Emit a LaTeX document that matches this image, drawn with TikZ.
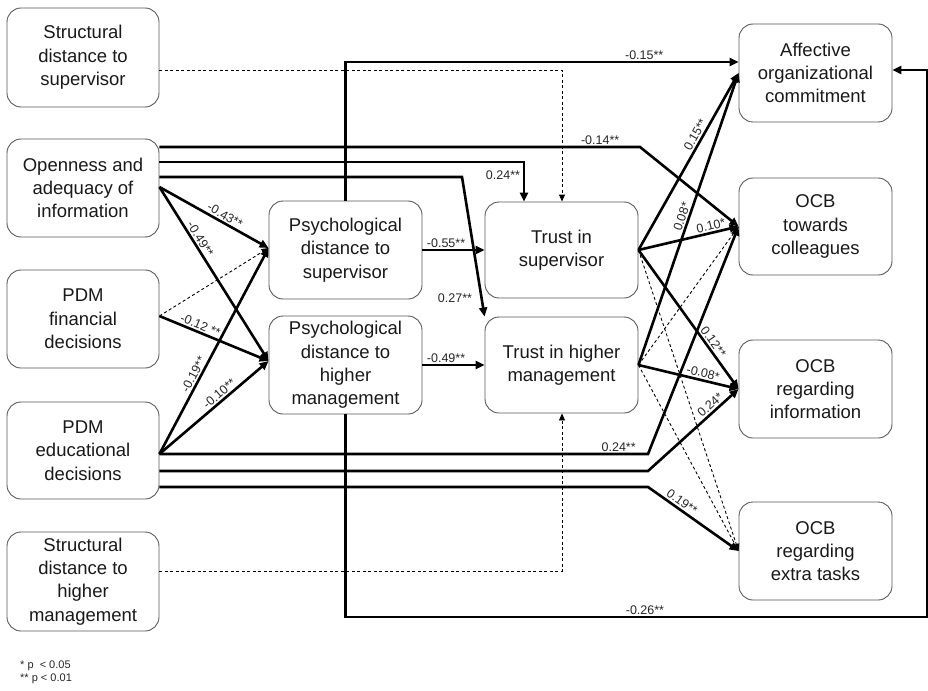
\documentclass[tikz,border=0pt]{standalone}
\usepackage{fontspec}
\setmainfont{Liberation Sans}
\usetikzlibrary{arrows.meta}
\begin{document}
\begin{tikzpicture}[x=1pt,y=-1pt,
  box/.style={draw=black!65, line width=0.9pt, rounded corners=14pt, align=center, inner sep=0pt,
    minimum width=153pt, minimum height=98pt, font=\fontsize{18.5}{23.3}\selectfont, text=black!90},
  sol/.style={line width=2.6pt, -{Triangle[length=9pt,width=8pt]}},
  dsh/.style={line width=0.9pt, dash pattern=on 3pt off 2.5pt, -{Triangle[length=7pt,width=6pt]}},
  lab/.style={font=\fontsize{12.5}{14}\selectfont, inner sep=1.5pt, text=black!85},
]
\useasboundingbox (0,0) rectangle (928,690);

% left column
\node[box, minimum width=152pt, minimum height=99pt] (s1) at (83,57.5) {Structural\\distance to\\supervisor};
\node[box, minimum width=152pt] (op) at (83,188) {Openness and\\adequacy of\\information};
\node[box, minimum width=152pt] (pf) at (83,319) {PDM\\financial\\decisions};
\node[box, minimum width=152pt, minimum height=97pt] (pe) at (83,450.5) {PDM\\educational\\decisions};
\node[box, minimum width=152pt, minimum height=99pt] (s2) at (83,581.5) {Structural\\distance to\\higher\\management};

% middle
\node[box] (ps) at (345.5,250) {Psychological\\distance to\\supervisor};
\node[box] (ph) at (345.5,365) {Psychological\\distance to\\higher\\management};
\node[box, minimum height=96pt] (ts) at (561.5,250) {Trust in\\supervisor};
\node[box, minimum height=96pt] (th) at (561.5,365) {Trust in higher\\management};

% right
\node[box] (ac) at (815.5,73) {Affective\\organizational\\commitment};
\node[box, minimum height=97pt] (oc) at (815.5,226.5) {OCB\\towards\\colleagues};
\node[box] (oi) at (815.5,389) {OCB\\regarding\\information};
\node[box] (ox) at (815.5,551) {OCB\\regarding\\extra tasks};

% dashed (non-significant) paths
\draw[dsh] (s1.east |- 0,70) -| (ts.north -| 562,0);
\draw[dsh] (s2.east |- 0,571) -| (th.south -| 562,0);
\draw[dsh] (pf.east |- 0,316) -- (ps.west |- 0,248);
\draw[dsh] (ts.east) -- (ox.west);
\draw[dsh] (th.east) -- (oc.west);
\draw[dsh] (th.east) -- (ox.west);

% Openness and adequacy of information
\draw[sol] (op.east |- 0,147) -- node[lab, above, pos=0.917] (l14) {-0.14**} (640,147) -- (oc.west);
\draw[sol] (op.east |- 0,162) -| (ts.north -| 524,0);
\node[lab] (l24a) at (503,175) {0.24**};
\draw[sol] (op.east |- 0,177) -- (462,177) -- (th.north west);
\node[lab] (l27) at (455,298) {0.27**};
\draw[sol] (op.east |- 0,187) -- node[lab, sloped, above, pos=0.57] (l43) {-0.43**} (ps.west |- 0,248);
\draw[sol] (op.east |- 0,187) -- node[lab, sloped, above, pos=0.32] (l49a) {-0.49**} (ph.west |- 0,361);

% PDM financial
\draw[sol] (pf.east |- 0,316) -- node[lab, sloped, above, pos=0.35] (l12a) {-0.12 **} (ph.west |- 0,361);

% PDM educational
\draw[sol] (pe.east |- 0,454) -- node[lab, sloped, above, pos=0.37] (l19a) {-0.19**} (ps.west |- 0,248);
\draw[sol] (pe.east |- 0,454) -- node[lab, sloped, above, pos=0.59] (l10a) {-0.10**} (ph.west |- 0,361);
\draw[sol] (pe.east |- 0,454) -- node[lab, above, pos=0.94] (l24b) {0.24**} (648,454) -- (oc.west);
\draw[sol] (pe.east |- 0,471) -- (648,471) -- node[lab, sloped, above, pos=0.74] (l24c) {0.24*} (oi.west);
\draw[sol] (pe.east |- 0,487) -- (648,487) -- node[lab, sloped, above, pos=0.33] (l19b) {0.19**} (ox.west);

% psychological distance
\draw[sol] (ps.east) -- node[lab, above, pos=0.38] (l55) {-0.55**} (ts.west);
\draw[sol] (ph.east) -- node[lab, above, pos=0.38] (l49b) {-0.49**} (th.west);
\draw[sol] (ps.north) |- node[lab, above, pos=0.88] (l15a) {-0.15**} (ac.west |- 0,62);
\draw[sol] (ph.south) -- (ph.south |- 0,617) -- node[lab, above, pos=0.515] (l26) {-0.26**} (927,617) -- (927,70) -- (ac.east |- 0,70);

% trust in supervisor
\draw[sol] (ts.east) -- node[lab, sloped, above, pos=0.63] (l15b) {0.15**} (ac.west);
\draw[sol] (ts.east) -- node[lab, sloped, above, pos=0.74] (l10b) {0.10*} (oc.west);
\draw[sol] (ts.east) -- node[lab, sloped, above, pos=0.69] (l12b) {0.12**} (oi.west);

% trust in higher management
\draw[sol] (th.east) -- node[lab, sloped, above, pos=0.50] (l08a) {0.08*} (ac.west);
\draw[sol] (th.east) -- node[lab, sloped, above, pos=0.63] (l08b) {-0.08*} (oi.west);

% footnote
\node[font=\fontsize{11}{13}\selectfont, anchor=north west, align=left, inner sep=0pt, text=black!85] (fn) at (20,661) {* p\ \ < 0.05\\** p < 0.01};
\end{tikzpicture}
\end{document}
